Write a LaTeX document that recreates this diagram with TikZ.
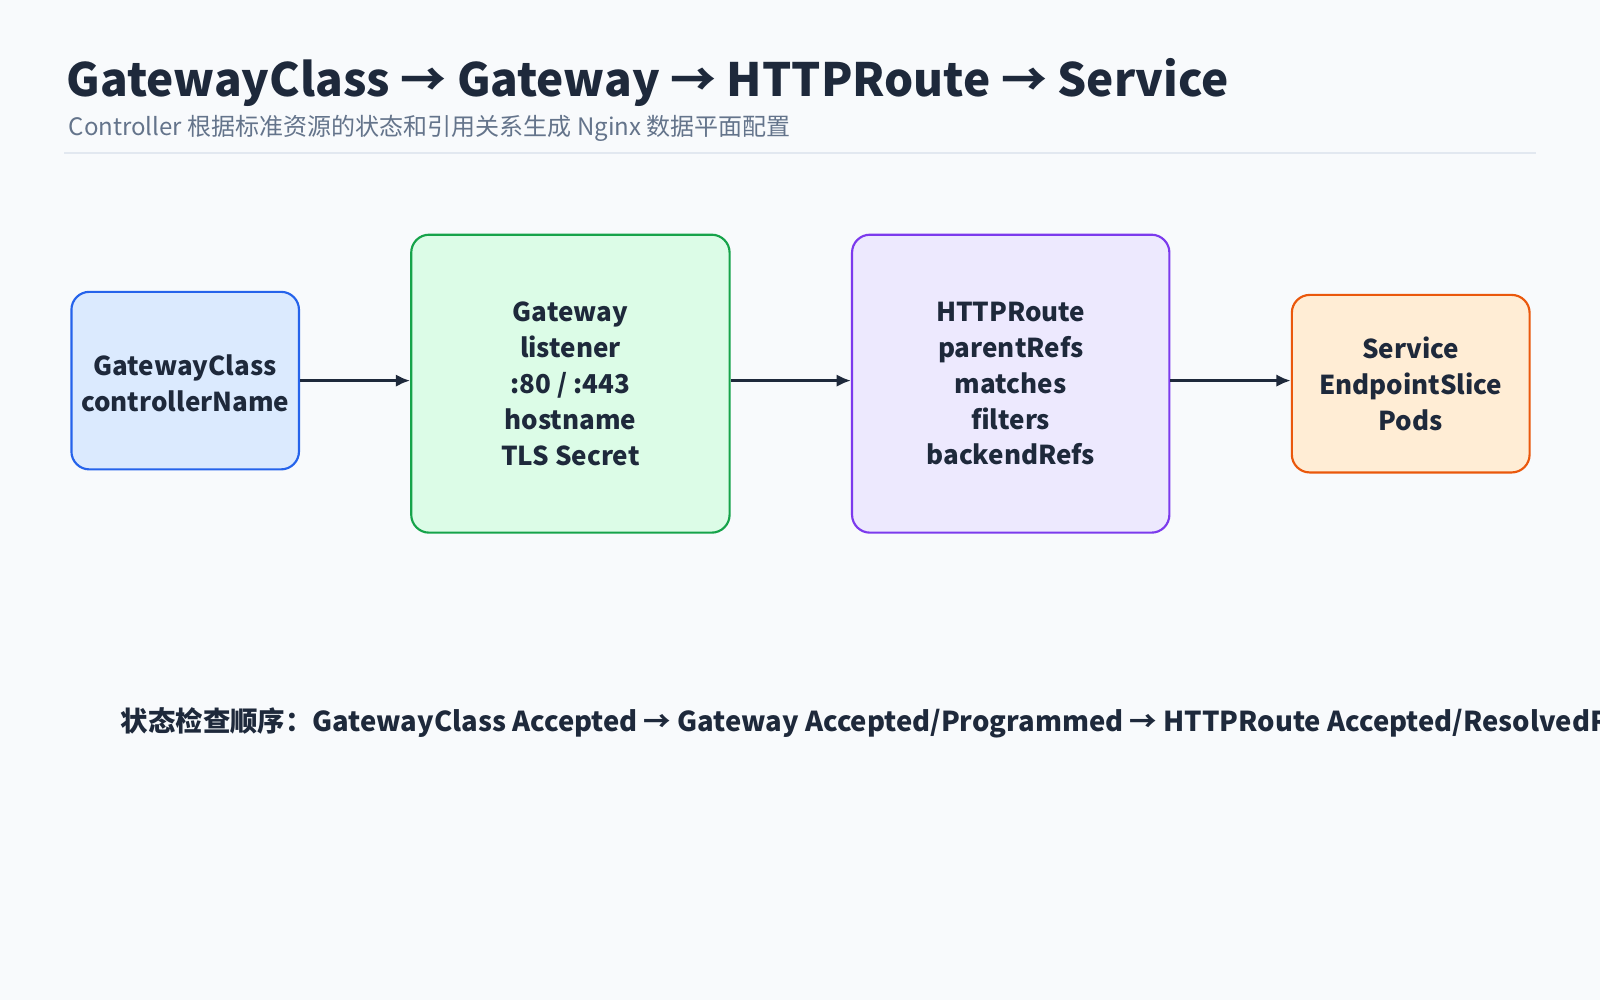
\documentclass[tikz,border=0pt]{standalone}
\usepackage{fontspec}
\setmainfont{Noto Sans CJK SC}
\usetikzlibrary{positioning,arrows.meta}
\definecolor{bg}{HTML}{F8FAFC}
\definecolor{ink}{HTML}{1E293B}
\definecolor{sub}{HTML}{64748B}
\definecolor{rule}{HTML}{E2E8F0}
\definecolor{bluedraw}{HTML}{2563EB}\definecolor{bluefill}{HTML}{DBEAFE}
\definecolor{greendraw}{HTML}{16A34A}\definecolor{greenfill}{HTML}{DCFCE7}
\definecolor{violetdraw}{HTML}{7C3AED}\definecolor{violetfill}{HTML}{EDE9FE}
\definecolor{orangedraw}{HTML}{EA580C}\definecolor{orangefill}{HTML}{FFEDD5}
\begin{document}
\begin{tikzpicture}
    [x=0.02cm,y=-0.02cm,
    box/.style={draw,line width=1.2pt,rounded corners=10pt,align=center,
      text=ink,font=\fontsize{14.5}{20}\selectfont\bfseries,inner sep=0pt},
    flow/.style={-{Latex[length=8pt,width=7pt]},line width=2pt,ink}]
    \fill[bg] (0,0) rectangle (1568,980);
    \useasboundingbox (0,0) rectangle (1568,980);
    \node[anchor=base west,text=ink,font=\fontsize{25.6}{30}\selectfont\bfseries,inner sep=0pt]
      (title) at (65,95) {GatewayClass → Gateway → HTTPRoute → Service};
    \node[anchor=base west,text=sub,font=\fontsize{13.4}{16}\selectfont,inner sep=0pt]
      (subtitle) at (67,133) {Controller 根据标准资源的状态和引用关系生成 Nginx 数据平面配置};
    \draw[rule,line width=1.2pt] (63,150) -- (1505,150);

    \node[box,draw=bluedraw,fill=bluefill,minimum width=223*0.02cm,minimum height=174*0.02cm]
      (gwc) at (181.5,373) {};
    \node[align=center,text=ink,font=\fontsize{14.5}{20}\selectfont\bfseries,inner sep=0pt]
      (gwctext) at (181.5,376) {GatewayClass\\controllerName};
    \node[box,draw=greendraw,fill=greenfill,minimum width=312*0.02cm,minimum height=292*0.02cm]
      (gw) at (559,376) {Gateway\\listener\\:80 / :443\\hostname\\TLS Secret};
    \node[box,draw=violetdraw,fill=violetfill,minimum width=311*0.02cm,minimum height=292*0.02cm]
      (route) at (990.5,376) {HTTPRoute\\parentRefs\\matches\\filters\\backendRefs};
    \node[box,draw=orangedraw,fill=orangefill,minimum width=233*0.02cm,minimum height=174*0.02cm]
      (svc) at (1382.5,376) {Service\\EndpointSlice\\Pods};

    \draw[flow] (gwc.east) -- (gwc.east -| gw.west);
    \draw[flow] (gw.east |- gwc.east) -- (route.west |- gwc.east);
    \draw[flow] (route.east |- gwc.east) -- (svc.west |- gwc.east);

    \node[anchor=west,text=ink,font=\fontsize{15.3}{18}\selectfont\bfseries,inner sep=0pt]
      (check) at (118,708) {状态检查顺序：GatewayClass Accepted → Gateway Accepted/Programmed → HTTPRoute Accepted/ResolvedRefs};
\end{tikzpicture}
\end{document}
